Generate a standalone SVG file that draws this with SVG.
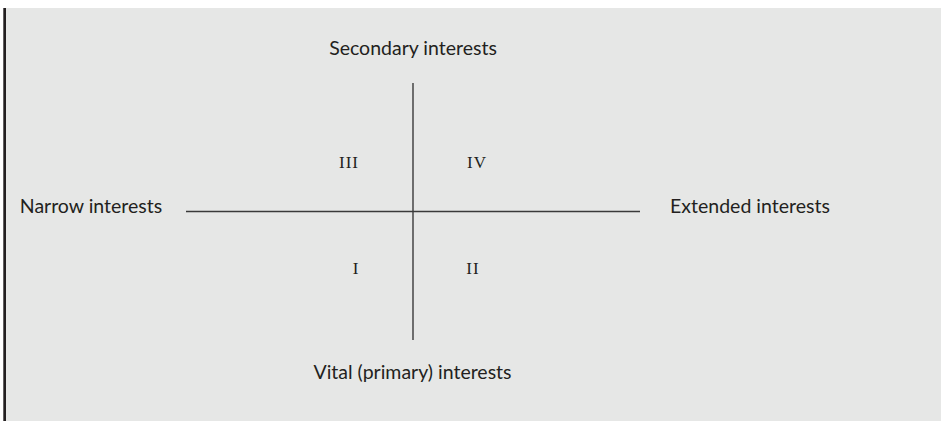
<svg xmlns="http://www.w3.org/2000/svg" width="941" height="421" viewBox="0 0 941 421">
<style>
.lbl{font-family:Lato,"Noto Sans","Liberation Sans",sans-serif;font-size:19.5px;fill:#231f20;text-anchor:middle}
.num{font-family:"Liberation Serif","DejaVu Serif",serif;font-size:17px;fill:#231f20;text-anchor:middle;letter-spacing:1px}
.ax{stroke:#3a3a3a;stroke-width:1.4;fill:none}
</style>
<rect x="0" y="0" width="941" height="421" fill="#ffffff"/>
<rect x="5" y="8" width="936" height="413" fill="#e6e7e6"/>
<rect x="3.3" y="8" width="2.7" height="413" fill="#231f20"/>
<g id="connectors">
<line class="ax" x1="413" y1="83" x2="413" y2="340"/>
<line class="ax" x1="186" y1="211.5" x2="640" y2="211.5"/>
</g>
<g id="secondary"><text class="lbl" x="413" y="55">Secondary interests</text></g>
<g id="narrow"><text class="lbl" x="91" y="212.5">Narrow interests</text></g>
<g id="extended"><text class="lbl" x="750" y="212.5">Extended interests</text></g>
<g id="vital"><text class="lbl" x="412.5" y="378.5">Vital (primary) interests</text></g>
<g id="q3"><text class="num" x="349" y="168">III</text></g>
<g id="q4"><text class="num" x="477" y="168">IV</text></g>
<g id="q1"><text class="num" x="356" y="274">I</text></g>
<g id="q2"><text class="num" x="473" y="274">II</text></g>
</svg>
